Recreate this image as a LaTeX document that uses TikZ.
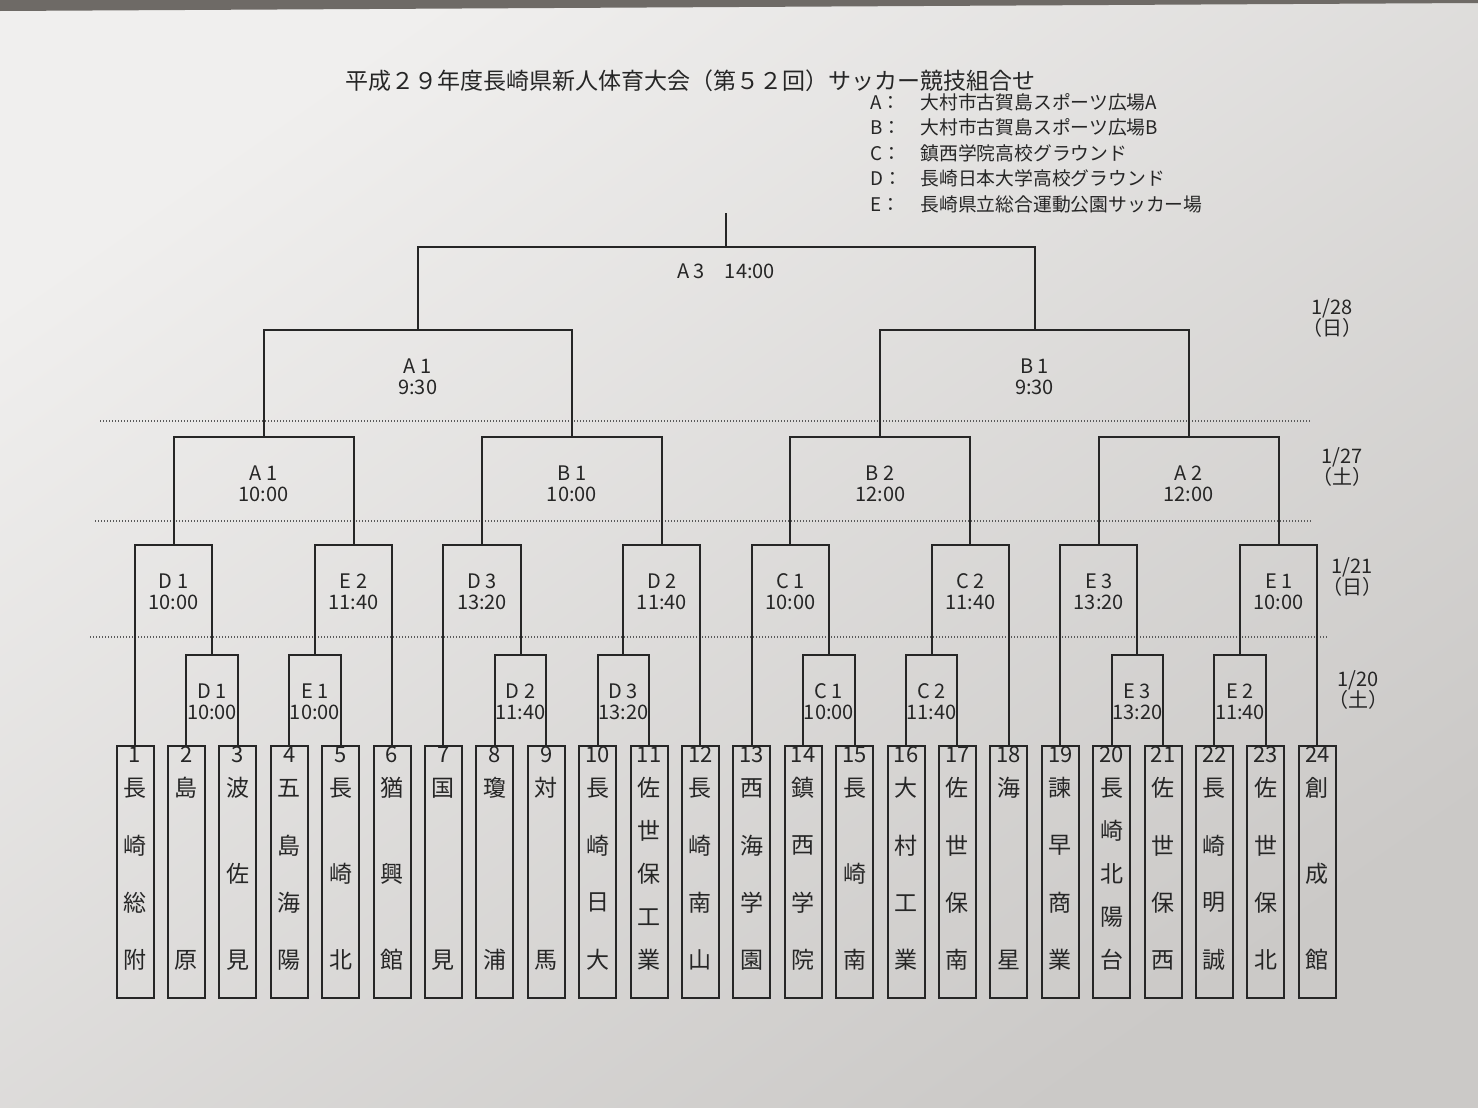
\documentclass[tikz,border=0pt]{standalone}
\usepackage{fontspec}
\setmainfont{Noto Sans CJK JP}
\usetikzlibrary{positioning,calc}
\definecolor{paperhi}{HTML}{F0EFEE}
\definecolor{paper}{HTML}{E5E5E3}
\definecolor{paperlo}{HTML}{CBC9C7}
\definecolor{desk}{HTML}{6E6A66}
\definecolor{ink}{HTML}{262626}
\definecolor{rule}{HTML}{5A5A5A}

\begin{document}
\begin{tikzpicture}[
  x=0.5pt, y=-0.5pt,
  font=\fontsize{10}{10.5}\selectfont,
  text=ink,
  bracket/.style={draw=ink, line width=1pt},
  sep/.style={draw=rule, line width=0.7pt, dash pattern=on 0.7pt off 0.8pt},
  team/.style={draw=ink, line width=1pt, anchor=north, inner sep=0pt,
               minimum width=18.5pt, minimum height=126pt},
  num/.style={inner sep=0pt, font=\fontsize{11}{11}\selectfont},
  kanji/.style={inner sep=0pt, font=\fontsize{11.5}{11.5}\selectfont},
  lbl/.style={inner sep=0pt, align=center},
  day/.style={inner sep=0pt, align=center},
  key/.style={anchor=west, inner sep=0pt, font=\fontsize{9.4}{9.4}\selectfont}
]
  \shade[top color=paperhi, middle color=paper, bottom color=paperlo, shading angle=35]
    (0,0) rectangle (1478,1108);
  \fill[desk] (0,0) -- (1478,0) -- (1478,3) -- (0,11) -- cycle;
  \useasboundingbox (0,0) rectangle (1478,1108);

  % title and grounds
  \node[inner sep=0pt, font=\fontsize{11.5}{11.5}\selectfont] (title) at (690,81)
    {平成２９年度長崎県新人体育大会（第５２回）サッカー競技組合せ};
  \node[key] (keyA) at (870,102) {\makebox[25pt][l]{A：}大村市古賀島スポーツ広場A};
  \node[key] (keyB) at (870,127.5) {\makebox[25pt][l]{B：}大村市古賀島スポーツ広場B};
  \node[key] (keyC) at (870,153) {\makebox[25pt][l]{C：}鎮西学院高校グラウンド};
  \node[key] (keyD) at (870,178.5) {\makebox[25pt][l]{D：}長崎日本大学高校グラウンド};
  \node[key] (keyE) at (870,204) {\makebox[25pt][l]{E：}長崎県立総合運動公園サッカー場};

  % days
  \node[day] (d28) at (1332,318) {1/28\\（日）};
  \node[day] (d27) at (1342,467) {1/27\\（土）};
  \node[day] (d21) at (1352,577) {1/21\\（日）};
  \node[day] (d20) at (1358,690) {1/20\\（土）};

  \coordinate (s1l) at (100,421);  \coordinate (s1r) at (1310,421);
  \coordinate (s2l) at (95,521);   \coordinate (s2r) at (1312,521);
  \coordinate (s3l) at (90,637);   \coordinate (s3r) at (1328,637);
  \draw[sep] (s1l) -- (s1r);
  \draw[sep] (s2l) -- (s2r);
  \draw[sep] (s3l) -- (s3r);

  % teams
  \foreach \i/\nm in {1/{長,崎,総,附}, 2/{島,原}, 3/{波,佐,見}, 4/{五,島,海,陽},
      5/{長,崎,北}, 6/{猶,興,館}, 7/{国,見}, 8/{瓊,浦}, 9/{対,馬},
      10/{長,崎,日,大}, 11/{佐,世,保,工,業}, 12/{長,崎,南,山},
      13/{西,海,学,園}, 14/{鎮,西,学,院}, 15/{長,崎,南}, 16/{大,村,工,業},
      17/{佐,世,保,南}, 18/{海,星}, 19/{諫,早,商,業}, 20/{長,崎,北,陽,台},
      21/{佐,世,保,西}, 22/{長,崎,明,誠}, 23/{佐,世,保,北}, 24/{創,成,館}} {
    \node[team] (t\i) at ({135+51.4*(\i-1)},745) {};
    \node[num] (n\i) at ($(t\i.north)+(0,10)$) {\i};
    \foreach \c [count=\k] in \nm {\xdef\nc{\k}}
    \foreach \c [count=\k] in \nm {
      \node[kanji] (c\i-\k) at ($(t\i.north)+(0,{43+(\k-1)*172/(\nc-1)})$) {\c};
    }
  }

  % 1/20
  \coordinate (r1a) at (212.1,655);  \coordinate (r1b) at (314.9,655);
  \coordinate (r1c) at (520.5,655);  \coordinate (r1d) at (623.3,655);
  \coordinate (r1e) at (828.9,655);  \coordinate (r1f) at (931.7,655);
  \coordinate (r1g) at (1137.3,655); \coordinate (r1h) at (1240.1,655);
  \draw[bracket] (t2.north) |- (r1a) -| (t3.north);
  \draw[bracket] (t4.north) |- (r1b) -| (t5.north);
  \draw[bracket] (t8.north) |- (r1c) -| (t9.north);
  \draw[bracket] (t10.north) |- (r1d) -| (t11.north);
  \draw[bracket] (t14.north) |- (r1e) -| (t15.north);
  \draw[bracket] (t16.north) |- (r1f) -| (t17.north);
  \draw[bracket] (t20.north) |- (r1g) -| (t21.north);
  \draw[bracket] (t22.north) |- (r1h) -| (t23.north);
  \node[lbl, below=14pt of r1a] (l1a) {D 1\\10:00};
  \node[lbl, below=14pt of r1b] (l1b) {E 1\\10:00};
  \node[lbl, below=14pt of r1c] (l1c) {D 2\\11:40};
  \node[lbl, below=14pt of r1d] (l1d) {D 3\\13:20};
  \node[lbl, below=14pt of r1e] (l1e) {C 1\\10:00};
  \node[lbl, below=14pt of r1f] (l1f) {C 2\\11:40};
  \node[lbl, below=14pt of r1g] (l1g) {E 3\\13:20};
  \node[lbl, below=14pt of r1h] (l1h) {E 2\\11:40};

  % 1/21
  \coordinate (r2a) at (173.6,545);  \coordinate (r2b) at (353.5,545);
  \coordinate (r2c) at (482.0,545);  \coordinate (r2d) at (661.9,545);
  \coordinate (r2e) at (790.4,545);  \coordinate (r2f) at (970.3,545);
  \coordinate (r2g) at (1098.8,545); \coordinate (r2h) at (1278.7,545);
  \draw[bracket] (t1.north) |- (r2a) -| (r1a);
  \draw[bracket] (r1b) |- (r2b) -| (t6.north);
  \draw[bracket] (t7.north) |- (r2c) -| (r1c);
  \draw[bracket] (r1d) |- (r2d) -| (t12.north);
  \draw[bracket] (t13.north) |- (r2e) -| (r1e);
  \draw[bracket] (r1f) |- (r2f) -| (t18.north);
  \draw[bracket] (t19.north) |- (r2g) -| (r1g);
  \draw[bracket] (r1h) |- (r2h) -| (t24.north);
  \node[lbl, below=14pt of r2a] (l2a) {D 1\\10:00};
  \node[lbl, below=14pt of r2b] (l2b) {E 2\\11:40};
  \node[lbl, below=14pt of r2c] (l2c) {D 3\\13:20};
  \node[lbl, below=14pt of r2d] (l2d) {D 2\\11:40};
  \node[lbl, below=14pt of r2e] (l2e) {C 1\\10:00};
  \node[lbl, below=14pt of r2f] (l2f) {C 2\\11:40};
  \node[lbl, below=14pt of r2g] (l2g) {E 3\\13:20};
  \node[lbl, below=14pt of r2h] (l2h) {E 1\\10:00};

  % 1/27
  \coordinate (r3a) at (263.5,437);  \coordinate (r3b) at (571.9,437);
  \coordinate (r3c) at (880.3,437);  \coordinate (r3d) at (1188.7,437);
  \draw[bracket] (r2a) |- (r3a) -| (r2b);
  \draw[bracket] (r2c) |- (r3b) -| (r2d);
  \draw[bracket] (r2e) |- (r3c) -| (r2f);
  \draw[bracket] (r2g) |- (r3d) -| (r2h);
  \node[lbl, below=14pt of r3a] (l3a) {A 1\\10:00};
  \node[lbl, below=14pt of r3b] (l3b) {B 1\\10:00};
  \node[lbl, below=14pt of r3c] (l3c) {B 2\\12:00};
  \node[lbl, below=14pt of r3d] (l3d) {A 2\\12:00};

  % 1/28
  \coordinate (sfa) at (417.7,330);  \coordinate (sfb) at (1034.5,330);
  \coordinate (fin) at (726.1,247);  \coordinate (champ) at (726.1,213);
  \draw[bracket] (r3a) |- (sfa) -| (r3b);
  \draw[bracket] (r3c) |- (sfb) -| (r3d);
  \draw[bracket] (sfa) |- (fin) -| (sfb);
  \draw[bracket] (fin) -- (champ);
  \node[lbl, below=14pt of sfa] (lsa) {A 1\\9:30};
  \node[lbl, below=14pt of sfb] (lsb) {B 1\\9:30};
  \node[lbl, below=8pt of fin] (lfin) {A 3\quad 14:00};
\end{tikzpicture}
\end{document}
